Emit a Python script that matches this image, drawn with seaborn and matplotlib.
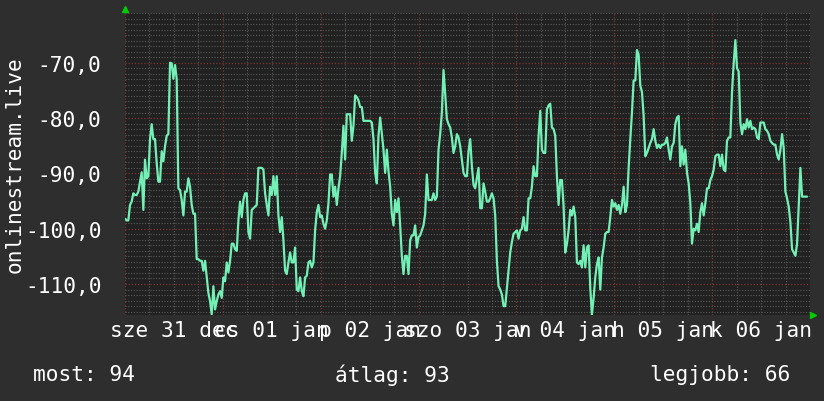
import numpy as np
import pandas as pd
import matplotlib
matplotlib.use("Agg")
import matplotlib.pyplot as plt
import matplotlib.transforms as mtransforms
from matplotlib.ticker import FuncFormatter, MultipleLocator
import seaborn as sns

# --- adatok ---
ping_week1 = [
    -98.2, -98.5, -98.5, -95.7, -95.1, -93.6, -93.9, -93.9, -93.3, -91.5,
    -89.8, -96.6, -87.5, -90.9, -90.5, -83.8, -81.1, -83.8, -83.8, -88.1,
    -91.5, -91.5, -86.0, -87.8, -85.1, -83.2, -82.9, -70.0, -70.1, -72.9,
    -70.4, -72.9, -92.7, -93.0, -94.8, -97.6, -93.3, -93.3, -90.9, -92.4,
    -95.7, -97.3, -97.3, -105.5, -105.5, -105.8, -105.8, -107.6, -105.8, -108.8,
    -111.6, -113.1, -115.5, -110.4, -114.6, -113.1, -111.9, -111.3, -112.5, -108.8,
    -109.5, -106.1, -107.9, -105.8, -102.7, -102.7, -103.7, -104.0, -98.5, -95.1,
    -97.9, -94.8, -93.6, -93.6, -100.6, -101.8, -96.6, -96.3, -96.0, -95.7,
    -89.0, -89.0, -89.0, -89.3, -93.6, -95.7, -97.6, -92.4, -93.9, -90.5,
    -93.9, -90.5, -97.6, -100.6, -97.9, -102.1, -107.6, -108.2, -106.1, -104.3,
    -106.1, -106.1, -103.4, -111.0, -111.3, -108.8, -111.3, -112.2, -108.8, -108.5,
    -106.1, -105.8, -107.0, -106.1, -100.3, -97.0, -95.7, -97.9, -97.6, -99.1,
    -100.0, -98.5, -95.4, -90.2, -90.2, -94.2, -92.4, -95.7, -92.7, -90.5,
    -86.3, -81.4, -87.5, -79.3, -79.3, -79.3, -84.1, -81.4, -75.9, -76.2,
    -76.8, -78.0, -78.0, -80.5, -80.5, -80.5, -80.5, -80.5, -80.8, -83.8,
    -89.9, -91.8, -83.2, -79.9, -82.9, -85.7, -89.9, -85.7, -89.6, -92.4,
    -97.3, -99.4, -94.8, -97.0, -94.5, -99.4, -104.9, -108.2, -104.9, -104.9,
    -108.2, -102.1, -101.2, -101.2, -99.4, -103.4, -101.5, -101.2, -100.3, -99.4,
    -97.3, -90.2, -94.8, -94.8, -94.8, -93.6, -94.8, -94.2, -85.7, -82.9,
    -79.0, -71.3, -75.6, -80.2, -81.1, -81.7, -83.5, -86.3, -85.1, -82.9,
    -83.5, -85.1, -87.5, -89.9, -90.5, -90.5, -86.0,
]
ping_week2 = [
    -83.8, -88.7, -92.1, -92.7, -90.9, -89.0, -96.3, -96.3, -91.8, -93.3,
    -95.1, -95.1, -94.5, -93.6, -94.5, -97.6, -105.8, -110.4, -111.0, -111.9,
    -114.0, -114.0, -110.7, -107.6, -104.3, -102.4, -100.9, -100.6, -100.3, -101.8,
    -100.3, -100.0, -97.9, -100.3, -100.3, -94.5, -94.5, -92.4, -88.7, -90.5,
    -90.5, -83.2, -78.7, -85.7, -86.3, -86.3, -78.4, -77.7, -77.4, -81.7,
    -82.0, -83.2, -90.5, -95.7, -91.2, -91.2, -96.0, -104.3, -102.7, -100.3,
    -96.6, -97.6, -96.0, -97.9, -106.1, -106.4, -105.8, -107.0, -103.0, -107.0,
    -103.4, -103.0, -110.7, -115.5, -112.5, -108.8, -106.4, -105.2, -111.0, -105.2,
    -103.4, -100.9, -100.6, -100.6, -97.9, -94.8, -96.0, -95.4, -96.6, -95.7,
    -97.3, -95.7, -92.4, -97.0, -95.7, -89.0, -83.8, -79.0, -73.2, -73.2,
    -67.7, -68.6, -74.1, -75.3, -79.6, -86.9, -86.3, -85.4, -84.5, -83.8,
    -82.0, -84.1, -85.4, -84.8, -85.4, -84.8, -84.8, -84.5, -83.5, -85.7,
    -87.5, -85.1, -84.5, -81.1, -79.9, -79.6, -88.7, -85.1, -88.4, -85.7,
    -89.9, -91.8, -95.4, -102.7, -100.0, -100.3, -99.1, -100.6, -97.0, -95.4,
    -97.6, -95.4, -92.7, -92.7, -91.2, -90.5, -89.3, -86.9, -86.6, -86.6,
    -88.7, -86.6, -89.3, -89.6, -84.1, -83.5, -83.5, -75.3, -70.1, -65.9,
    -71.0, -71.6, -80.8, -82.9, -81.1, -82.0, -80.2, -81.7, -80.5, -82.0,
    -81.7, -82.0, -83.5, -83.8, -80.8, -80.8, -80.8, -82.0, -82.3, -82.9,
    -84.1, -84.5, -84.8, -84.8, -86.6, -87.5, -85.7, -82.9, -85.4, -93.3,
    -94.5, -96.0, -98.8, -103.7, -104.3, -104.9, -102.7, -95.7, -89.0, -94.2,
    -94.2, -94.2, -94.2,
]
day_labels = ["sze 31 dec", "cs 01 jan", "p 02 jan", "szo 03 jan",
              "v 04 jan", "h 05 jan", "k 06 jan"]
summary_names = ["most", "átlag", "legjobb"]
summary_values = [94, 93, 66]
y_title = "onlinestream.live"

values = ping_week1 + ping_week2
sample_step_h = 0.409  # kb. 24.5 perces mintavétel
df = pd.DataFrame({"ora": np.arange(len(values)) * sample_step_h, "ping": values})

# --- stílus ---
sns.set_style("dark")
plt.rcParams["font.family"] = ["DejaVu Sans Mono", "DejaVu Sans"]
bg_out = "#2e2e2e"
bg_in = "#212121"
fg = "#ffffff"
grid_minor = "#5a5a5a"
grid_major = "#7a3434"
line_col = "#72f0b6"
fs = 15.2

fig = plt.figure(figsize=(8.24, 4.02), dpi=100, facecolor=bg_out)
ax = fig.add_axes([125 / 824, 1 - 316 / 402, 685 / 824, 302 / 402])
ax.set_facecolor(bg_in)

sns.lineplot(data=df, x="ora", y="ping", ax=ax, color=line_col, linewidth=1.6)

ax.set_xlim(0, 168)
ax.set_ylim(-115.6, -61.0)

ax.xaxis.set_major_locator(MultipleLocator(24))
ax.xaxis.set_minor_locator(MultipleLocator(6))
ax.yaxis.set_major_locator(MultipleLocator(10))
ax.yaxis.set_minor_locator(MultipleLocator(1))
ax.yaxis.set_major_formatter(FuncFormatter(lambda v, p: f"{v:.1f}".replace(".", ",")))
ax.set_xticklabels([])

ax.grid(True, which="minor", color=grid_minor, linestyle=(0, (1, 1.5)), linewidth=0.8)
ax.grid(True, which="major", color=grid_major, linestyle=(0, (1, 1.5)), linewidth=0.9)
ax.set_axisbelow(True)

ax.tick_params(axis="y", which="major", colors=fg, labelsize=fs, length=3,
               color="#777777", pad=14)
ax.tick_params(axis="both", which="minor", length=2, color="#555555")
ax.tick_params(axis="x", which="major", length=3, color="#777777")
for s in ax.spines.values():
    s.set_visible(False)
ax.set_xlabel("")
ax.set_ylabel("")

# napcímkék délben (az eredetiben is egymásra csúsznak)
trans = mtransforms.blended_transform_factory(ax.transData, ax.transAxes)
for i, lab in enumerate(day_labels):
    ax.text(12 + 24 * i, -0.015, lab, transform=trans, ha="center", va="top",
            color=fg, fontsize=fs)

# zöld nyilak
ax.plot([0], [1.013], marker="^", color="#00cc00", markersize=4,
        transform=ax.transAxes, clip_on=False)
ax.plot([1.005], [0], marker=">", color="#00cc00", markersize=4,
        transform=ax.transAxes, clip_on=False)

fig.text(15 / 824, 1 - 165 / 402, y_title, rotation=90, ha="center", va="center",
         color=fg, fontsize=fs)

fy = 1 - 375 / 402
fig.text(33 / 824, fy, f"{summary_names[0]}: {summary_values[0]}", ha="left",
         va="center", color=fg, fontsize=fs)
fig.text(335 / 824, fy, f"{summary_names[1]}: {summary_values[1]}", ha="left",
         va="center", color=fg, fontsize=fs)
fig.text(790 / 824, fy, f"{summary_names[2]}: {summary_values[2]}", ha="right",
         va="center", color=fg, fontsize=fs)

fig.savefig("out.png", dpi=100, facecolor=bg_out)
